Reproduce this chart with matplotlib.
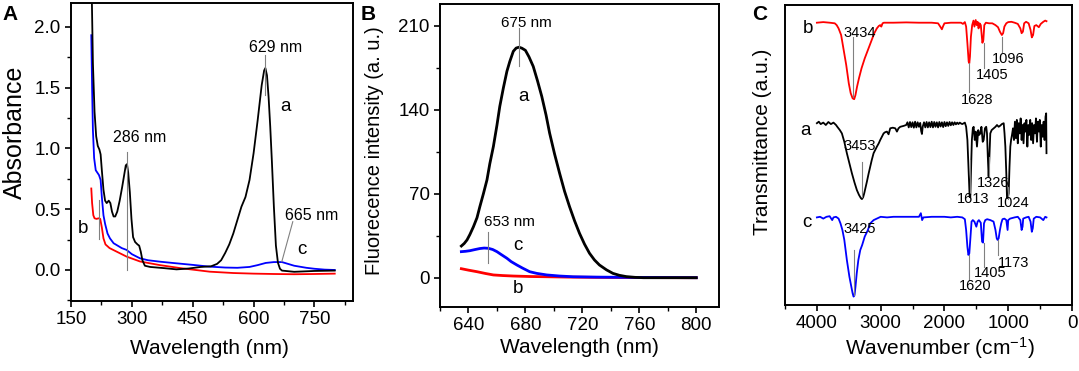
import numpy as np
import matplotlib
matplotlib.use('Agg')
import matplotlib.pyplot as plt
from matplotlib.ticker import MultipleLocator

plt.rcParams['font.family'] = 'Liberation Sans'
plt.rcParams['mathtext.default'] = 'regular'

# ---- panel A: UV-vis absorbance (nm, absorbance)
uv_a = [(199, 2.6), (201, 2.3), (204, 1.7), (208, 1.3), (212, 1.1), (216, 1.02), (220, 0.99),
        (223, 0.95), (226, 0.82), (230, 0.66), (234, 0.57), (238, 0.55), (243, 0.57), (247, 0.55),
        (251, 0.48), (255, 0.44), (259, 0.44), (264, 0.48), (270, 0.57), (276, 0.68), (281, 0.78),
        (285, 0.86), (288, 0.87), (291, 0.80), (295, 0.64), (299, 0.42), (303, 0.27), (308, 0.23),
        (314, 0.21), (318, 0.20), (322, 0.15), (326, 0.08), (332, 0.035), (345, 0.025), (380, 0.015),
        (410, 0.005), (440, 0.012), (470, 0.025), (495, 0.03), (510, 0.05), (520, 0.08), (530, 0.14),
        (540, 0.21), (550, 0.30), (560, 0.41), (570, 0.52), (580, 0.60), (590, 0.74), (600, 0.96),
        (610, 1.23), (620, 1.52), (626, 1.64), (629, 1.66), (633, 1.60), (637, 1.42), (641, 1.18),
        (645, 0.90), (650, 0.52), (655, 0.20), (660, 0.06), (665, 0.01), (670, -0.005), (700, -0.015),
        (750, -0.008), (800, -0.005)]
uv_b = [(200, 0.67), (202, 0.55), (205, 0.45), (208, 0.425), (213, 0.42), (218, 0.425), (222, 0.42),
        (226, 0.35), (230, 0.26), (235, 0.21), (245, 0.18), (260, 0.155), (287, 0.11), (320, 0.07),
        (369, 0.04), (420, 0.015), (492, -0.014), (550, -0.025), (600, -0.03), (650, -0.033),
        (700, -0.035), (750, -0.033), (800, -0.03)]
uv_c = [(200, 1.93), (202, 1.5), (204, 1.15), (207, 0.92), (211, 0.82), (215, 0.80), (219, 0.78),
        (223, 0.74), (226, 0.60), (230, 0.45), (234, 0.38), (240, 0.30), (246, 0.26), (255, 0.22),
        (265, 0.20), (275, 0.18), (287, 0.165), (300, 0.13), (320, 0.096), (340, 0.08), (370, 0.068),
        (400, 0.058), (450, 0.042), (490, 0.028), (530, 0.02), (560, 0.018), (590, 0.025), (610, 0.04),
        (630, 0.058), (650, 0.065), (670, 0.065), (685, 0.05), (700, 0.035), (730, 0.018), (750, 0.01),
        (775, 0.003), (800, 0.0)]

# ---- panel B: fluorescence (nm, intensity)
fl_a = [(635, 26.4), (637, 28.5), (639, 31.5), (641, 36), (643.5, 42.5), (646, 50), (648, 59.2),
        (650.5, 70), (653, 81.5), (655, 95), (657.5, 109.3), (660, 127), (662, 142.7), (664.5, 158),
        (667, 171.9), (669, 180), (671.5, 188.6), (673.5, 191.3), (675.5, 192), (677.5, 191.2),
        (680, 189.4), (682.5, 184), (685.5, 176), (688.5, 164), (691.5, 151), (694.5, 135.5),
        (697, 120.5), (700.5, 103), (704, 87.1), (707.5, 72), (711, 59.2), (714.5, 47.5), (718, 37),
        (721.5, 28), (725, 20.4), (728.5, 14.8), (732, 10.6), (737, 6.5), (741.5, 3.6), (746, 2.0),
        (751, 0.9), (757, 0.3), (763, 0.0), (800, 0.0)]
fl_b = [(635, 7.5), (640, 6.3), (646, 5.0), (652, 3.5), (657.5, 2.3), (664, 1.8), (671.5, 1.4),
        (683, 1.0), (695, 0.8), (710, 0.5), (727.5, 0.3), (760, 0.1), (800, 0.0)]
fl_c = [(635, 21.7), (638, 22.0), (641, 22.5), (644, 23.3), (648, 24.3), (651, 24.7), (654, 24.5),
        (657, 23.5), (660, 21.7), (663, 19.3), (667, 16.2), (670, 13.4), (674, 10.6), (678, 8.0),
        (683, 5.0), (688, 3.6), (695, 2.3), (704, 1.4), (713.5, 0.8), (730, 0.5), (751, 0.3), (800, 0.0)]

# ---- panel C: FTIR, offset transmittance (cm-1, a.u.)
ir_b = [(4000, 94.1), (3900, 94.3), (3800, 94.1), (3720, 93.9), (3690, 93.3), (3660, 92.2), (3620, 90.0),
        (3580, 85.0), (3540, 80.0), (3500, 73.9), (3470, 70.6), (3440, 68.9), (3415, 68.6), (3395, 70.0),
        (3370, 72.8), (3340, 75.6), (3300, 78.9), (3250, 82.2), (3200, 85.0), (3150, 87.8), (3100, 90.6),
        (3060, 92.2), (3030, 93.0), (3007, 93.3), (2990, 92.8), (2970, 93.9), (2950, 94.1), (2800, 94.1),
        (2600, 94.2), (2400, 94.1), (2200, 94.1), (2100, 93.9), (2060, 92.6), (2040, 91.9), (2020, 93.0),
        (2000, 93.9), (1900, 94.1), (1800, 94.1), (1740, 94.1), (1710, 93.7), (1680, 94.3), (1660, 92.8),
        (1640, 87.2), (1620, 81.1), (1610, 80.6), (1600, 82.8), (1585, 89.4), (1565, 93.3), (1545, 94.8),
        (1530, 92.8), (1510, 95.0), (1495, 93.3), (1480, 94.4), (1465, 92.2), (1450, 93.9), (1430, 93.3),
        (1405, 87.4), (1390, 88.3), (1375, 93.3), (1350, 94.1), (1300, 93.9), (1250, 93.9), (1200, 93.3),
        (1160, 92.6), (1130, 91.1), (1100, 90.0), (1080, 90.6), (1060, 92.8), (1030, 93.9), (1000, 94.3),
        (950, 94.4), (900, 94.1), (850, 93.7), (810, 92.2), (790, 90.6), (770, 91.1), (750, 93.9),
        (720, 94.4), (680, 93.9), (650, 91.7), (630, 89.2), (610, 90.0), (590, 93.0), (560, 93.3),
        (520, 92.6), (490, 93.7), (450, 94.4), (420, 94.8), (400, 94.6)]
ir_a = [(4000, 60.6), (3970, 61.1), (3940, 60.3), (3900, 60.8), (3860, 60.0), (3820, 61.0), (3780, 60.3),
        (3740, 60.8), (3700, 60.0), (3680, 59.4), (3640, 58.3), (3608, 57.2), (3570, 54.4), (3530, 50.6),
        (3490, 47.2), (3451, 43.9), (3410, 40.8), (3373, 38.3), (3340, 36.7), (3310, 35.6), (3294, 35.3),
        (3275, 35.9), (3258, 37.2), (3236, 39.2), (3216, 41.1), (3190, 43.7), (3164, 46.1), (3140, 48.3),
        (3111, 50.6), (3085, 51.7), (3059, 52.8), (3030, 53.9), (3007, 55.0), (2980, 56.1), (2954, 57.2),
        (2930, 57.6), (2902, 57.8), (2876, 56.9), (2850, 58.9), (2810, 59.1), (2771, 58.9), (2745, 57.8),
        (2720, 58.9), (2693, 59.4), (2640, 59.7), (2600, 60.0),
        (2580, 60.9), (2560, 59.2), (2540, 61.0), (2520, 59.3), (2500, 60.9), (2480, 59.1), (2460, 61.1),
        (2440, 59.2), (2420, 60.9), (2400, 59.4), (2380, 60.7), (2365, 58.0), (2353, 57.0), (2340, 59.5),
        (2320, 60.9), (2300, 59.2), (2280, 61.0), (2260, 59.2), (2240, 60.9), (2220, 59.3), (2200, 61.1),
        (2180, 59.2), (2160, 61.0), (2140, 59.4), (2120, 60.9), (2100, 59.2), (2080, 61.0), (2060, 59.5),
        (2040, 60.9), (2020, 59.3), (2000, 61.0), (1980, 59.6), (1960, 60.9), (1940, 59.7), (1920, 61.0),
        (1900, 59.9), (1880, 60.9), (1860, 60.0), (1840, 60.9), (1820, 60.2), (1800, 60.8), (1780, 60.3),
        (1760, 60.8), (1740, 60.5),
        (1720, 60.3), (1680, 60.8), (1660, 59.4), (1640, 55.0), (1620, 43.9), (1605, 36.1), (1595, 35.9),
        (1585, 43.9), (1570, 55.0), (1555, 58.9), (1542, 59.4), (1525, 55.0), (1510, 57.8), (1490, 52.8),
        (1470, 58.3), (1455, 56.7), (1438, 57.2), (1420, 59.4), (1400, 54.4), (1385, 55.0), (1365, 58.9),
        (1345, 59.4), (1333, 57.2), (1320, 49.4), (1307, 42.8), (1295, 49.4), (1281, 57.2), (1260, 58.3),
        (1228, 58.9), (1200, 59.4), (1176, 60.0), (1150, 59.4), (1124, 59.8), (1100, 60.3), (1071, 60.6),
        (1058, 57.2), (1045, 52.8), (1030, 43.9), (1019, 35.6), (1005, 35.9), (993, 37.2), (980, 46.1),
        (967, 52.8), (955, 55.0), (941, 56.7), (925, 58.9),
        (910, 55.0), (895, 61.1), (880, 55.6), (865, 61.7), (850, 53.9), (835, 60.6), (820, 57.2),
        (805, 62.2), (790, 55.0), (775, 60.0), (760, 53.9), (745, 60.6), (730, 57.8), (715, 61.7),
        (700, 52.8), (685, 60.0), (670, 56.7), (655, 61.7), (640, 55.0), (625, 60.6), (610, 53.9),
        (595, 60.0), (580, 57.2), (565, 62.2), (550, 54.4), (535, 61.1), (520, 57.8), (505, 61.7),
        (490, 52.8), (475, 60.0), (460, 56.1), (445, 61.1), (430, 55.0), (415, 62.8), (405, 63.9),
        (400, 50.6)]
ir_c = [(4000, 29.2), (3950, 29.4), (3900, 28.8), (3850, 29.4), (3800, 29.6), (3760, 28.3), (3740, 29.2),
        (3700, 29.4), (3660, 28.8), (3630, 27.2), (3600, 25.0), (3570, 21.7), (3530, 15.0), (3490, 9.4),
        (3460, 6.1), (3440, 3.9), (3425, 2.8), (3410, 3.3), (3395, 6.1), (3375, 10.6), (3350, 15.0),
        (3320, 18.3), (3290, 20.0), (3250, 22.8), (3200, 25.0), (3164, 27.2), (3110, 28.3), (3060, 28.8),
        (3000, 29.4), (2900, 29.2), (2800, 29.4), (2600, 29.4), (2400, 29.4), (2370, 30.6), (2350, 28.3),
        (2330, 29.2), (2200, 29.4), (2000, 29.4), (1900, 29.2), (1800, 29.4), (1720, 29.2), (1680, 28.6),
        (1660, 25.0), (1640, 19.4), (1625, 16.7), (1610, 17.2), (1595, 21.7), (1575, 27.8), (1555, 28.3),
        (1530, 27.8), (1500, 26.1), (1480, 27.8), (1460, 28.3), (1430, 27.4), (1410, 21.1), (1395, 20.8),
        (1380, 27.2), (1360, 28.3), (1330, 28.6), (1280, 28.3), (1230, 27.8), (1200, 25.0), (1180, 22.2),
        (1167, 21.7), (1150, 22.2), (1130, 25.0), (1110, 27.2), (1090, 28.6), (1060, 28.8), (1030, 28.3),
        (1010, 25.0), (1000, 28.3), (970, 28.8), (900, 29.2), (850, 29.4), (810, 28.3), (790, 25.0),
        (775, 26.1), (765, 28.8), (720, 29.2), (680, 29.4), (650, 27.8), (630, 24.4), (615, 25.6),
        (600, 28.8), (560, 29.4), (500, 29.2), (450, 28.3), (420, 29.4), (400, 29.2)]

# annotations: (text, x, y), marker lines: (x0, y0, x1, y1)
uv_labels = [('286 nm', 320, 1.09), ('629 nm', 653, 1.83), ('a', 678, 1.34),
             ('665 nm', 744, 0.45), ('c', 719, 0.17), ('b', 180, 0.345)]
uv_marks = [(287, 0.97, 287, 0.0), (629, 1.77, 629, 1.44), (669.5, 0.068, 696.6, 0.397),
            (220, 0.575, 220, 0.255)]
fl_labels = [('675 nm', 681, 212), ('a', 678.5, 151), ('653 nm', 668.5, 46.7),
             ('c', 675, 26.7), ('b', 675, -8.8)]
fl_marks = [(675.5, 208, 675.5, 176), (654, 38.4, 654, 12)]
ir_letters = [('b', 4132, 92.2), ('a', 4184, 58.3), ('c', 4158, 27.4)]
ir_labels = [('3434', 3321, 90.6), ('1628', 1490, 68.3), ('1405', 1255, 76.7), ('1096', 995, 81.9),
             ('3453', 3321, 53.1), ('1613', 1544, 35.2), ('1326', 1230, 40.8), ('1024', 916, 34.1),
             ('3425', 3321, 25.3), ('1620', 1517, 6.3), ('1405', 1282, 10.8), ('1173', 916, 13.9)]
ir_marks = [(3426, 89.4, 3426, 69.4), (1621, 80.6, 1621, 71.1), (1385, 87.2, 1385, 78.9),
            (1098, 89.4, 1098, 84.4), (3294, 47.8, 3294, 36.1), (1595, 48.3, 1595, 37.2),
            (1307, 49.4, 1307, 42.8), (1010, 39.4, 1010, 35.4), (3420, 18.3, 3420, 3.3),
            (1621, 16.7, 1621, 8.3), (1385, 20.6, 1385, 12.8), (1167, 21.7, 1167, 16.7)]


def style(ax):
    for s in ax.spines.values():
        s.set_linewidth(1.4)
    ax.tick_params(which='major', direction='out', length=4.5, width=1.2, labelsize=13.5, pad=3)
    ax.tick_params(which='minor', direction='out', length=2.8, width=1.0)


def curve(ax, pts, color, lw):
    d = np.array(pts)
    ax.plot(d[:, 0], d[:, 1], color=color, lw=lw)


def marks(ax, lines):
    for x0, y0, x1, y1 in lines:
        ax.plot([x0, x1], [y0, y1], color='#808080', lw=0.8)


def place_labels(ax, xl, yl):
    ax.xaxis.set_label_coords(*xl)
    ax.xaxis.label.set_va('center')
    ax.yaxis.set_label_coords(*yl)
    ax.yaxis.label.set_va('center')


W, H = 1079, 371
fig = plt.figure(figsize=(W / 100, H / 100), dpi=100)

def box(l, t, r, b):
    return fig.add_axes([l / W, 1 - b / H, (r - l) / W, (b - t) / H])

# A
axA = box(71, 3, 353, 301)
curve(axA, uv_b, 'red', 1.3)
curve(axA, uv_c, 'blue', 1.3)
curve(axA, uv_a, 'black', 1.3)
marks(axA, uv_marks)
for t, x, y in uv_labels:
    fs = 13.5 if len(t) == 1 else 11.5
    axA.text(x, y, t, ha='center', va='center', fontsize=fs)
axA.set_xlim(150, 845)
axA.set_ylim(-0.255, 2.195)
axA.xaxis.set_major_locator(MultipleLocator(150))
axA.xaxis.set_minor_locator(MultipleLocator(75))
axA.yaxis.set_major_locator(MultipleLocator(0.5))
axA.yaxis.set_minor_locator(MultipleLocator(0.25))
axA.yaxis.set_major_formatter(lambda v, p: '%.1f' % v)
axA.set_xlabel('Wavelength (nm)', fontsize=15)
axA.set_ylabel('Absorbance', fontsize=18)
place_labels(axA, (0.49, -0.158), (-0.199, 0.567))
style(axA)

# B
axB = box(440, 4, 719, 307)
curve(axB, fl_b, 'red', 2.0)
curve(axB, fl_c, 'blue', 2.0)
curve(axB, fl_a, 'black', 2.0)
marks(axB, fl_marks)
for t, x, y in fl_labels:
    fs = 13.5 if len(t) == 1 else 11
    axB.text(x, y, t, ha='center', va='center', fontsize=fs)
axB.set_xlim(620, 816)
axB.set_ylim(-24.4, 228)
axB.xaxis.set_major_locator(MultipleLocator(40))
axB.xaxis.set_minor_locator(MultipleLocator(20))
axB.yaxis.set_major_locator(MultipleLocator(70))
axB.yaxis.set_minor_locator(MultipleLocator(35))
axB.set_xlabel('Wavelength (nm)', fontsize=15)
axB.set_ylabel('Fluorecence intensity (a. u.)', fontsize=14.5)
place_labels(axB, (0.5, -0.135), (-0.233, 0.515))
style(axB)

# C
axC = box(785, 5, 1072, 305)
curve(axC, ir_b, 'red', 1.3)
curve(axC, ir_a, 'black', 1.3)
curve(axC, ir_c, 'blue', 1.3)
marks(axC, ir_marks)
for t, x, y in ir_letters:
    axC.text(x, y, t, ha='center', va='center', fontsize=13.5)
for t, x, y in ir_labels:
    axC.text(x, y, t, ha='center', va='center', fontsize=10.5)
axC.set_xlim(4500, 0)
axC.set_ylim(0, 100)
axC.xaxis.set_major_locator(MultipleLocator(1000))
axC.xaxis.set_minor_locator(MultipleLocator(500))
axC.set_yticks([])
axC.set_xlabel('Wavenumber (cm$^{-1}$)', fontsize=15)
axC.set_ylabel('Transmittance (a.u.)', fontsize=15)
place_labels(axC, (0.54, -0.143), (-0.08, 0.545))
style(axC)

for t, x, y in [('A', 10, 15), ('B', 368, 14), ('C', 760, 15)]:
    fig.text(x / W, 1 - y / H, t, ha='center', va='center', fontsize=15, fontweight='bold')

fig.savefig('out.png', dpi=100)
